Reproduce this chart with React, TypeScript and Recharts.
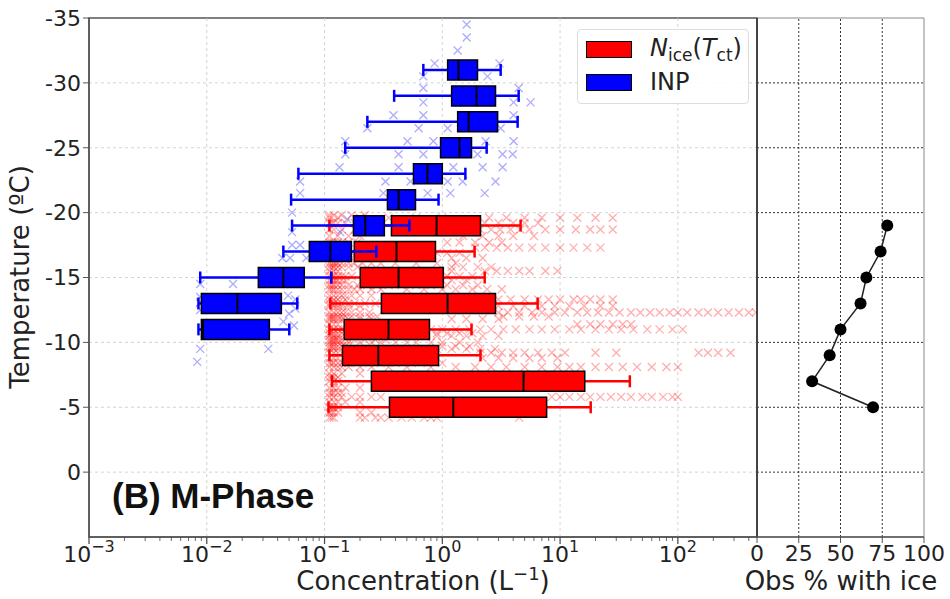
import React from "react";
import {
  ComposedChart,
  Scatter,
  Bar,
  XAxis,
  YAxis,
  ErrorBar,
  ReferenceLine,
  ReferenceArea,
} from "recharts";

// box statistics per 2 degree bin (whisker low, q1, median, q3, whisker high), L^-1
const redTemps = [-19, -17, -15, -13, -11, -9, -7, -5];
const redLow = [0.11, 0.11, 0.114, 0.112, 0.11, 0.11, 0.116, 0.108];
const redQ1 = [0.37, 0.179, 0.201, 0.304, 0.147, 0.142, 0.25, 0.356];
const redMed = [0.893, 0.408, 0.425, 1.11, 0.349, 0.286, 4.9, 1.24];
const redQ3 = [2.11, 0.875, 1.02, 2.83, 0.778, 0.929, 16.2, 7.69];
const redHigh = [4.62, 1.88, 2.29, 6.45, 1.77, 2.11, 39.1, 18.2];

const blueTemps = [-31, -29, -27, -25, -23, -21, -19, -17, -15, -13, -11];
const blueLow = [0.69, 0.39, 0.231, 0.15, 0.06, 0.052, 0.053, 0.0447, 0.0088, 0.0085, 0.0085];
const blueQ1 = [1.11, 1.2, 1.35, 0.966, 0.569, 0.342, 0.176, 0.0743, 0.0274, 0.009, 0.009];
const blueMed = [1.37, 1.95, 1.67, 1.4, 0.748, 0.425, 0.222, 0.112, 0.0447, 0.0182, 0.0093];
const blueQ3 = [1.99, 2.83, 2.95, 1.77, 1.0, 0.592, 0.322, 0.169, 0.0673, 0.043, 0.034];
const blueHigh = [3.13, 4.45, 4.36, 2.38, 1.57, 0.929, 0.526, 0.275, 0.114, 0.0587, 0.0502];

const redCloud: [number, number[]][] = [
  [-19.8, [0.11, 0.12, 0.14, 0.17, 0.22]],
  [-19.6, [0.11, 0.13, 0.2, 0.35, 0.6, 1.0, 2.5, 3.5, 5, 7, 10, 14, 20, 28]],
  [-19.2, [0.11, 0.115, 0.12, 0.13, 0.15, 0.18, 0.25, 2.3, 3, 4, 5, 6.5]],
  [-18.7, [0.11, 0.12, 0.14, 0.18, 0.25, 2.1, 2.6, 3.1, 3.8, 4.6, 5.5, 7.5, 10, 13.6, 18, 22, 28]],
  [-18.2, [0.11, 0.13, 0.16, 0.2, 1.5, 2.2, 3, 4, 6]],
  [-17.7, [0.11, 0.115, 0.12, 0.13, 0.14, 0.16, 0.19, 1.1, 1.4, 1.9, 2.5, 3.2]],
  [-17.3, [0.11, 0.12, 0.13, 0.15, 0.2, 1.9, 2.3, 2.9, 3.6, 4.5, 5.8, 7.5, 10, 13, 17, 22]],
  [-16.9, [0.11, 0.115, 0.12, 0.13, 0.14, 0.15, 0.17, 0.9, 1.1, 1.4]],
  [-16.5, [0.11, 0.12, 0.14, 0.17, 0.22, 0.3, 1.2, 1.6, 2.2]],
  [-16.1, [0.11, 0.115, 0.12, 0.125, 0.13, 0.14, 0.16, 0.18, 0.21, 0.25, 0.3, 0.4, 0.6, 0.9, 1.3]],
  [-15.8, [0.11, 0.115, 0.12, 0.13, 0.14, 0.16, 0.19, 1.2, 1.5, 2, 2.6]],
  [-15.5, [0.11, 0.12, 0.13, 1.2, 2.3, 2.9, 3.6, 4.5, 5.5, 7.5, 9.5]],
  [-15.1, [0.11, 0.115, 0.12, 0.13, 0.14, 0.15, 0.17, 1.1, 1.4, 1.8]],
  [-14.8, [0.11, 0.115, 0.12, 0.125, 0.13, 0.14, 0.15, 1.2, 1.6]],
  [-14.4, [0.11, 0.115, 0.12, 0.13, 0.14, 0.16, 0.19, 0.23, 0.28, 0.35, 0.45, 0.6, 0.8, 1.1, 1.5, 2]],
  [-14.1, [0.11, 0.115, 0.12, 0.13, 0.14, 0.16, 0.18, 0.2, 0.25, 0.3, 0.5, 0.7, 1.0, 1.3, 1.8, 2.4, 3.2]],
  [-13.6, [0.11, 0.12, 0.13, 0.14, 0.15, 0.17, 0.2, 0.25]],
  [-13.3, [0.11, 0.12, 0.13, 0.15, 3, 3.8, 5, 6.5, 8, 10, 13, 15, 18, 22, 28]],
  [-13.0, [0.11, 0.115, 0.12, 0.13, 0.14, 0.16, 0.18, 0.22, 0.27]],
  [-12.8, [0.11, 0.12, 0.13, 0.14, 0.16, 0.2, 3, 4, 5, 7, 9, 12, 16, 22, 28]],
  [-12.3, [0.11, 0.12, 0.13, 0.14, 0.15, 0.17, 0.2, 0.24, 3, 3.6, 4.5, 5.8, 7, 9, 11, 14, 17, 21, 26, 32, 40, 48, 58, 70, 85, 100, 120, 150, 180, 220, 270, 330, 400, 460]],
  [-12.0, [0.11, 0.115, 0.12, 0.13, 0.14, 0.15, 0.17, 0.2, 0.24, 0.28, 3.3, 4.5, 6, 8]],
  [-11.8, [0.11, 0.115, 0.12, 0.13, 0.14, 0.16, 0.2, 0.25, 1.2, 1.6, 2.2, 3]],
  [-11.4, [0.11, 0.12, 0.13, 0.15, 14, 18, 22, 28, 34, 40]],
  [-11.0, [0.11, 0.12, 0.13, 0.14, 0.16, 0.8, 1.0, 1.3, 1.7, 2.1, 2.6, 3.3, 4.2, 5.5, 7, 9, 12, 15, 20, 26, 33, 42, 55, 70, 90, 110]],
  [-10.7, [0.11, 0.115, 0.12, 0.13, 0.14, 0.15, 0.17, 0.9, 1.1, 1.4, 1.8]],
  [-10.5, [0.11, 0.12, 0.13, 0.15, 0.2, 0.9, 1.2, 1.6, 2.2, 3]],
  [-10.2, [0.11, 0.115, 0.12, 0.125, 0.13, 0.14, 0.16, 0.18, 0.22, 0.27, 0.33]],
  [-10.0, [0.11, 0.115, 0.12, 0.13, 0.14, 0.16, 0.2, 0.25, 0.3, 0.4, 0.5, 0.6, 0.8, 1.0, 1.4, 2]],
  [-9.7, [0.11, 0.115, 0.12, 0.13, 0.14, 0.15, 1.0, 1.3, 1.7]],
  [-9.5, [0.11, 0.12, 0.13, 0.15, 0.2, 0.9, 1.2, 1.6, 2.1, 2.8]],
  [-9.2, [0.11, 0.12, 0.13, 2.1, 2.6, 3.2, 4, 5, 6.5, 8.5, 11, 20, 30, 150, 180, 220, 280]],
  [-8.8, [0.11, 0.12, 0.13, 0.15, 2.2, 3, 4, 5.5, 7, 9.5]],
  [-8.4, [0.11, 0.115, 0.12, 0.13, 0.14, 0.16, 0.19, 0.24, 0.3, 0.4, 0.55, 0.75, 1.0]],
  [-8.1, [0.11, 0.12, 0.13, 0.14, 0.16, 0.2, 0.25, 0.35, 0.5, 0.8, 1.3, 1.9, 2.6, 3.5, 5, 7, 9.5, 12, 15, 20, 26, 34, 45, 60, 80, 100]],
  [-7.6, [0.11, 0.12, 0.14, 0.2]],
  [-7.3, [0.11, 0.115, 0.12, 0.13]],
  [-7.0, [0.11, 0.12, 0.13]],
  [-6.5, [0.11, 0.12, 0.13, 0.15, 0.2]],
  [-6.1, [0.11, 0.115, 0.12, 0.13, 0.14]],
  [-5.8, [0.11, 0.12, 0.14, 0.17, 0.2, 0.25, 0.3, 8.5, 10, 12, 15, 18, 22, 27, 33, 40, 50, 60, 75, 90, 100]],
  [-5.4, [0.11, 0.12, 0.13, 0.15, 0.2]],
  [-5.0, [0.11, 0.115, 0.12, 0.13]],
  [-4.6, [0.11, 0.115, 0.12, 0.13, 0.2, 0.25]],
  [-4.2, [0.11, 0.115, 0.12, 0.2, 0.22, 0.27, 0.3, 0.35, 0.45, 0.55, 0.7, 0.8, 0.9, 4.5]],
];

const blueCloud: [number, number][] = [
  [-34.5, 1.61], [-33.5, 1.61], [-32.5, 1.35], [-31.5, 0.86], [-31.5, 3.06], [-30.5, 2.42],
  [-30.5, 0.69], [-29.6, 0.69], [-29.6, 4.45], [-28.5, 0.69], [-28.5, 4.03], [-28.5, 5.62],
  [-27.5, 0.385], [-27.5, 0.69], [-27.5, 4.03], [-26.5, 0.63], [-26.5, 1.11], [-26.5, 3.13],
  [-26.5, 0.231], [-25.5, 0.15], [-25.5, 0.506], [-25.5, 0.84], [-25.5, 2.33], [-25.5, 4.03],
  [-24.5, 0.15], [-24.5, 0.425], [-24.5, 0.69], [-24.5, 1.99], [-24.5, 3.25], [-24.5, 3.96],
  [-23.5, 0.134], [-23.5, 0.425], [-23.5, 1.24], [-23.5, 2.2], [-23.5, 3.25], [-22.4, 0.062],
  [-22.4, 0.329], [-22.4, 0.537], [-22.4, 1.11], [-22.4, 1.49], [-22.4, 2.83], [-21.5, 0.062],
  [-21.5, 0.316], [-21.5, 0.75], [-21.5, 1.17], [-21.5, 2.29], [-20, 0.053], [-19.5, 0.156],
  [-18.5, 0.053], [-18.5, 0.136], [-17.5, 0.053], [-17.5, 0.062], [-16.5, 0.0438],
  [-16.5, 0.051], [-16.5, 0.07], [-14.5, 0.0088], [-14.5, 0.0167], [-13.6, 0.049],
  [-13.3, 0.0565], [-12.6, 0.0565], [-13.5, 0.0088], [-13.1, 0.0088], [-12.5, 0.0088],
  [-12.2, 0.05], [-11.6, 0.0447], [-11.3, 0.055], [-9.5, 0.0088], [-9.5, 0.0333], [-8.5, 0.0083],
];

// right panel: percentage of observations with ice
const obsTemps = [-19, -17, -15, -13, -11, -9, -7, -5];
const obsPct = [78, 74, 65.5, 62, 50, 43.5, 33, 69.5];

const decades = [0.001, 0.01, 0.1, 1, 10, 100];
const tempTicks = [-35, -30, -25, -20, -15, -10, -5, 0];
const pctTicks = [0, 25, 50, 75, 100];

const legendItems = [
  { key: "nice", color: "#ff0000" },
  { key: "inp", color: "#0000ff" },
];

const W = 950;
const H = 599;
const X_DOMAIN = [0.001, 470];
const T_DOMAIN = [-35, 5];
const PLOT = { top: 18, right: 193, bottom: 62, left: 89 };
const Y_AXIS_W = 70;
const X_AXIS_H = 40;
const FONT = "'DejaVu Sans', sans-serif";

const minorTicks = decades.flatMap((d) =>
  [2, 3, 4, 5, 6, 7, 8, 9].map((m) => m * d).filter((v) => v < X_DOMAIN[1])
);
const xTicks = [...decades, ...minorTicks].sort((a, b) => a - b);

const boxRows = (t: number[], lo: number[], q1: number[], med: number[], q3: number[], hi: number[]) =>
  t.map((tt, i) => ({
    t: tt,
    x: med[i],
    range: [q1[i], q3[i]],
    err: [med[i] - lo[i], hi[i] - med[i]],
  }));

const redBoxes = boxRows(redTemps, redLow, redQ1, redMed, redQ3, redHigh);
const blueBoxes = boxRows(blueTemps, blueLow, blueQ1, blueMed, blueQ3, blueHigh);
const redPoints = redCloud.flatMap(([t, cs]) => cs.map((c) => ({ t, x: c })));
const bluePoints = blueCloud.map(([t, c]) => ({ t, x: c }));
const obsData = obsTemps.map((t, i) => ({ t, pct: obsPct[i] }));

const xMark = (color: string, opacity: number) => (props: any) => {
  const { cx, cy } = props;
  const r = 4;
  return (
    <path
      d={`M${cx - r},${cy - r}L${cx + r},${cy + r}M${cx - r},${cy + r}L${cx + r},${cy - r}`}
      stroke={color}
      strokeOpacity={opacity}
      strokeWidth={1.3}
      fill="none"
    />
  );
};

const medianMark = (props: any) => {
  const { cx, cy } = props;
  return <line x1={cx} x2={cx} y1={cy - 10} y2={cy + 10} stroke="#000" strokeWidth={2} />;
};

const noMark = () => <g />;

const LogTick = (props: any) => {
  const { x, y, payload } = props;
  const v = payload.value;
  const e = Math.round(Math.log10(v));
  const major = Math.abs(Math.log10(v) - e) < 1e-6;
  return (
    <g>
      <line x1={x} x2={x} y1={y} y2={y + (major ? 7 : 4)} stroke="#444" strokeWidth={major ? 1.2 : 0.8} />
      {major && (
        <text x={x} y={y + 25} textAnchor="middle" fontSize={22} fill="#222" fontFamily={FONT}>
          10
          <tspan dy={-10} fontSize={16}>
            {e < 0 ? `\u2212${-e}` : `${e}`}
          </tspan>
        </text>
      )}
    </g>
  );
};

function Layer({ base = false, data, children }: { base?: boolean; data?: any[]; children?: React.ReactNode }) {
  const margin = base
    ? { top: PLOT.top, right: PLOT.right, bottom: PLOT.bottom - X_AXIS_H, left: PLOT.left - Y_AXIS_W }
    : PLOT;
  return (
    <div style={{ position: "absolute", left: 0, top: 0 }}>
      <ComposedChart width={W} height={H} layout="vertical" margin={margin} data={data}>
        <XAxis
          type="number"
          dataKey="x"
          scale="log"
          domain={X_DOMAIN}
          allowDataOverflow
          hide={!base}
          height={X_AXIS_H}
          ticks={xTicks}
          interval={0}
          tick={<LogTick />}
          tickLine={false}
          tickSize={0}
          tickMargin={0}
          axisLine={{ stroke: "#555", strokeWidth: 1.5 }}
        />
        <YAxis
          type="number"
          dataKey="t"
          domain={T_DOMAIN}
          allowDataOverflow
          hide={!base}
          width={Y_AXIS_W}
          ticks={tempTicks}
          interval={0}
          tick={{ fontSize: 22, fill: "#222", fontFamily: FONT }}
          tickLine={{ stroke: "#555" }}
          axisLine={{ stroke: "#555", strokeWidth: 1.5 }}
        />
        {children}
      </ComposedChart>
    </div>
  );
}

function BoxSeries({ rows, color }: { rows: any[]; color: string }) {
  return (
    <>
      <Layer>
        <Scatter data={rows} shape={noMark} isAnimationActive={false}>
          <ErrorBar dataKey="err" direction="x" width={6} stroke={color} strokeWidth={2.5} isAnimationActive={false} />
        </Scatter>
      </Layer>
      <Layer data={rows}>
        <Bar dataKey="range" barSize={20} fill={color} stroke="#000" strokeWidth={1.5} isAnimationActive={false} />
      </Layer>
      <Layer>
        <Scatter data={rows} shape={medianMark} isAnimationActive={false} />
      </Layer>
    </>
  );
}

export default function App() {
  return (
    <div style={{ position: "absolute", left: 0, top: 0, width: W, height: H, background: "#fff", fontFamily: FONT }}>
      <Layer base>
        {decades.slice(1).map((d) => (
          <ReferenceLine key={`v${d}`} x={d} stroke="#c8c8c8" strokeDasharray="3 3" strokeWidth={0.8} />
        ))}
        {tempTicks.slice(1).map((t) => (
          <ReferenceLine key={`h${t}`} y={t} stroke="#c8c8c8" strokeDasharray="3 3" strokeWidth={0.8} />
        ))}
        <ReferenceArea x1={X_DOMAIN[0]} x2={X_DOMAIN[1]} y1={T_DOMAIN[0]} y2={T_DOMAIN[1]} fill="none" stroke="#555" strokeWidth={1.5} fillOpacity={0} />
        <Scatter data={redPoints} shape={xMark("#ff0000", 0.32)} isAnimationActive={false} />
      </Layer>
      <BoxSeries rows={redBoxes} color="#ff0000" />
      <Layer>
        <Scatter data={bluePoints} shape={xMark("#3030ff", 0.4)} isAnimationActive={false} />
      </Layer>
      <BoxSeries rows={blueBoxes} color="#0000ff" />

      {/* right panel */}
      <div style={{ position: "absolute", left: 0, top: 0 }}>
        <ComposedChart
          width={W}
          height={H}
          margin={{ top: PLOT.top, right: W - 924, bottom: PLOT.bottom - X_AXIS_H, left: W - PLOT.right }}
        >
          <XAxis
            type="number"
            dataKey="pct"
            domain={[0, 100]}
            ticks={pctTicks}
            interval={0}
            height={X_AXIS_H}
            tick={{ fontSize: 22, fill: "#222", fontFamily: FONT }}
            tickLine={{ stroke: "#555" }}
            axisLine={{ stroke: "#555", strokeWidth: 1.5 }}
          />
          <YAxis type="number" dataKey="t" domain={T_DOMAIN} reversed allowDataOverflow hide />
          {pctTicks.slice(1, 4).map((p) => (
            <ReferenceLine key={`p${p}`} x={p} stroke="#333" strokeDasharray="2 2" strokeWidth={1} />
          ))}
          {tempTicks.slice(1).map((t) => (
            <ReferenceLine key={`q${t}`} y={t} stroke="#333" strokeDasharray="2 2" strokeWidth={1} />
          ))}
          <ReferenceArea x1={0} x2={100} y1={T_DOMAIN[0]} y2={T_DOMAIN[1]} fill="none" fillOpacity={0} stroke="#888" strokeWidth={1} />
          <Scatter
            data={obsData}
            fill="#000"
            line={{ stroke: "#222", strokeWidth: 1.5 }}
            shape={(p: any) => <circle cx={p.cx} cy={p.cy} r={6} fill="#000" />}
            isAnimationActive={false}
          />
        </ComposedChart>
      </div>

      <svg width={W} height={H} style={{ position: "absolute", left: 0, top: 0, pointerEvents: "none" }}>
        <line x1={757} x2={757} y1={18} y2={537} stroke="#444" strokeWidth={2} />
        <text transform="translate(29,277) rotate(-90)" textAnchor="middle" fontSize={26} fill="#222" fontFamily={FONT}>
          Temperature (ºC)
        </text>
        <text x={423} y={590} textAnchor="middle" fontSize={26} fill="#222" fontFamily={FONT}>
          Concentration (L
          <tspan dy={-10} fontSize={18}>
            {"\u22121"}
          </tspan>
          <tspan dy={10}>)</tspan>
        </text>
        <text x={841} y={590} textAnchor="middle" fontSize={26} fill="#222" fontFamily={FONT}>
          Obs % with ice
        </text>
        <text x={112} y={508} fontSize={35} fontWeight="bold" fill="#111" fontFamily="'Liberation Sans', Arial, sans-serif">
          (B) M-Phase
        </text>
      </svg>

      <div
        style={{
          position: "absolute",
          left: 577,
          top: 29,
          width: 170,
          height: 73,
          border: "1px solid #ddd",
          borderRadius: 4,
          background: "rgba(255,255,255,0.85)",
        }}
      >
        {legendItems.map((it, i) => (
          <div key={it.key} style={{ position: "absolute", left: 8, top: 10 + i * 34, display: "flex", alignItems: "center" }}>
            <div style={{ width: 46, height: 17, background: it.color, border: "1.5px solid #000", boxSizing: "border-box" }} />
            <div style={{ marginLeft: 18, fontSize: 24, lineHeight: "17px", color: "#222", whiteSpace: "nowrap" }}>
              {it.key === "nice" ? (
                <span>
                  <i>N</i>
                  <span style={{ fontSize: 17, position: "relative", top: 5 }}>ice</span>(<i>T</i>
                  <span style={{ fontSize: 17, position: "relative", top: 5 }}>ct</span>)
                </span>
              ) : (
                "INP"
              )}
            </div>
          </div>
        ))}
      </div>
    </div>
  );
}
